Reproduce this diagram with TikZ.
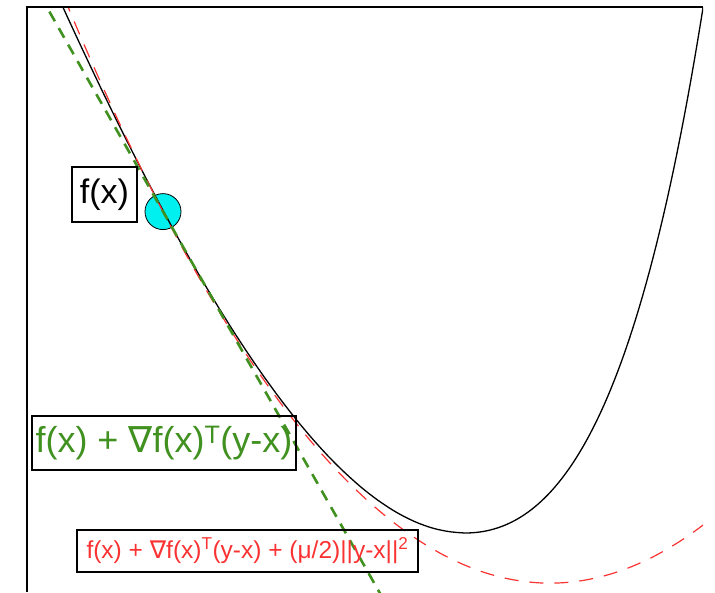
\documentclass[tikz,border=0pt]{standalone}
\usepackage{fontspec}
\setmainfont{Liberation Sans}
\newfontfamily\symfnt{DejaVu Sans}
\usetikzlibrary{calc}
\definecolor{tanGreen}{RGB}{64,145,32}
\definecolor{bndRed}{RGB}{250,50,50}
\definecolor{ptCyan}{RGB}{0,240,240}
\newcommand{\grd}{{\symfnt ∇}}

\begin{document}
\begin{tikzpicture}[x=1pt,y=-1pt,
  fcurve/.style={black, line width=1.3pt},
  tangent/.style={tanGreen, line width=2.6pt, dash pattern=on 11pt off 8pt},
  bound/.style={bndRed, line width=1.2pt, dash pattern=on 14pt off 11pt},
  lbl/.style={draw=black, line width=1.4pt, inner sep=0pt, align=center},
  big/.style={font=\fontsize{34}{36}\selectfont},
  mid/.style={font=\fontsize{36}{38}\selectfont},
  small/.style={font=\fontsize{24.5}{26}\selectfont}]
\useasboundingbox (0,0) rectangle (715,592);
\coordinate (pt) at (163,211.6);
\node[circle, draw, fill=ptCyan, minimum size=36pt, inner sep=0pt, line width=0.8pt] (ptdot) at (pt) {};
\begin{scope}
  \clip (27,7) rectangle (703,600);
  \draw[fcurve] plot[domain=58:465, samples=90] (\x,{533-1036.5*(exp(0.003*(\x-465))-1-0.003*(\x-465))})
    -- plot[domain=465:705, samples=70] (\x,{533-138.1*(exp(0.008*(\x-465))-1-0.008*(\x-465))});
  \draw[bound] plot[domain=55:703, samples=120] (\x,{211.6+1.92*(\x-163)-(0.0498*(\x-163))*(0.0498*(\x-163))});
  \draw[tangent] ($(pt)+(-123,-216.5)$) -- ($(pt)+(220,387)$);
\end{scope}
\draw[line width=1.6pt] (27,592) -- (27,7) -- (703,7);
\node[lbl, big, minimum width=65pt, minimum height=55pt] (fx) at (104.5,194.5) {f(x)};
\node[lbl, mid, tanGreen, draw=black, minimum width=264pt, minimum height=54pt] (lin) at (164,443) {f(x) + \grd f(x)\textsuperscript{T}(y-x)};
\node[lbl, small, bndRed, draw=black, minimum width=341pt, minimum height=42pt] (quad) at (247.5,551) {f(x) + \grd f(x)\textsuperscript{T}(y-x) + (μ/2)||y-x||\textsuperscript{2}};
\end{tikzpicture}
\end{document}
